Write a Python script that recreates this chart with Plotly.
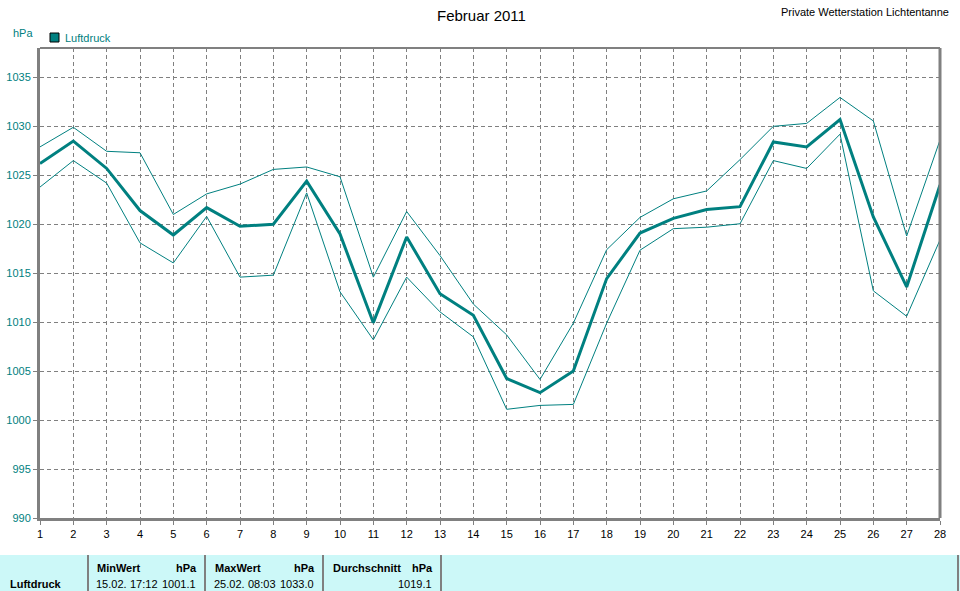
import plotly.graph_objects as go

days = list(range(1, 29))
p_max = [1027.9, 1029.9, 1027.45, 1027.3, 1021.0, 1023.1, 1024.1, 1025.6, 1025.85, 1024.85,
         1014.6, 1021.3, 1016.8, 1011.85, 1008.7, 1004.15, 1009.9, 1017.4, 1020.7, 1022.6,
         1023.4, 1026.6, 1030.0, 1030.3, 1032.95, 1030.55, 1018.8, 1028.6]
p_avg = [1026.2, 1028.5, 1025.7, 1021.4, 1018.9, 1021.7, 1019.8, 1020.0, 1024.4, 1019.0,
         1009.95, 1018.7, 1012.9, 1010.7, 1004.25, 1002.8, 1005.0, 1014.45, 1019.1, 1020.6,
         1021.5, 1021.8, 1028.4, 1027.9, 1030.7, 1020.75, 1013.6, 1024.0]
p_min = [1023.8, 1026.5, 1024.2, 1018.1, 1016.05, 1020.8, 1014.6, 1014.8, 1023.2, 1013.1,
         1008.2, 1014.6, 1011.05, 1008.5, 1001.1, 1001.5, 1001.6, 1009.9, 1017.35, 1019.55,
         1019.7, 1020.05, 1026.5, 1025.7, 1029.2, 1013.2, 1010.6, 1018.4]

y_ticks = [990, 995, 1000, 1005, 1010, 1015, 1020, 1025, 1030, 1035]

title_text = "Februar 2011"
station_text = "Private Wetterstation Lichtentanne"
series_name = "Luftdruck"
unit = "hPa"
table_headers = ["MinWert", "MaxWert", "Durchschnitt"]
table_dates = ["15.02.", "25.02.", ""]
table_times = ["17:12", "08:03", ""]
table_values = ["1001.1", "1033.0", "1019.1"]

TEAL = "#008080"
GRAY = "#808080"
FONT = "Liberation Sans"

W, H = 960, 591
L, R, T, B = 40, 940, 48, 518


def px(X):
    return (X - L) / (R - L)


def py(Y):
    return (B - Y) / (B - T)


fig = go.Figure()
fig.add_trace(go.Scatter(x=days, y=p_max, mode="lines", line=dict(color=TEAL, width=1), hoverinfo="skip"))
fig.add_trace(go.Scatter(x=days, y=p_min, mode="lines", line=dict(color=TEAL, width=1), hoverinfo="skip"))
fig.add_trace(go.Scatter(x=days, y=p_avg, mode="lines", line=dict(color=TEAL, width=3), name=series_name))

shapes = []
annotations = []

# frame
shapes.append(dict(type="line", xref="paper", yref="paper", x0=0, x1=1, y0=1, y1=1,
                   line=dict(color=GRAY, width=2)))
shapes.append(dict(type="line", xref="paper", yref="paper", x0=1, x1=1, y0=0, y1=1,
                   line=dict(color=GRAY, width=3)))

# legend
shapes.append(dict(type="rect", xref="paper", yref="paper", x0=px(50), x1=px(59), y0=py(42), y1=py(33),
                   fillcolor=TEAL, line=dict(color="black", width=1)))
annotations.append(dict(text=series_name, xref="paper", yref="paper", x=px(63), y=py(38),
                        xanchor="left", yanchor="middle", showarrow=False,
                        font=dict(family=FONT, size=11, color=TEAL)))
annotations.append(dict(text=unit, xref="paper", yref="paper", x=px(11), y=py(33),
                        xanchor="left", yanchor="middle", showarrow=False,
                        font=dict(family=FONT, size=11, color=TEAL)))
annotations.append(dict(text=title_text, xref="paper", yref="paper", x=px(481), y=py(15),
                        xanchor="center", yanchor="middle", showarrow=False,
                        font=dict(family=FONT, size=15, color="black")))
annotations.append(dict(text=station_text, xref="paper", yref="paper", x=px(951), y=py(12),
                        xanchor="right", yanchor="middle", showarrow=False,
                        font=dict(family=FONT, size=11, color="black")))

# table
shapes.append(dict(type="rect", xref="paper", yref="paper", x0=px(0), x1=px(960), y0=py(591), y1=py(555),
                   fillcolor="#ccf8f8", line=dict(width=0), layer="below"))
for X in [88, 205, 323, 441, 958]:
    shapes.append(dict(type="line", xref="paper", yref="paper", x0=px(X), x1=px(X), y0=py(591), y1=py(555),
                       line=dict(color=GRAY, width=2)))

bold = dict(family=FONT, size=11, color="black", weight="bold")
norm = dict(family=FONT, size=11, color="black")
annotations.append(dict(text="<b>" + series_name + "</b>", xref="paper", yref="paper", x=px(8), y=py(584),
                        xanchor="left", yanchor="middle", showarrow=False, font=bold))
col_left = [95, 213, 331]
col_right = [199, 317, 435]
for i in range(3):
    annotations.append(dict(text="<b>" + table_headers[i] + "</b>", xref="paper", yref="paper",
                            x=px(col_left[i]), y=py(568), xanchor="left", yanchor="middle",
                            showarrow=False, font=bold))
    annotations.append(dict(text="<b>" + unit + "</b>", xref="paper", yref="paper",
                            x=px(col_right[i]), y=py(568), xanchor="right", yanchor="middle",
                            showarrow=False, font=bold))
    if table_dates[i]:
        annotations.append(dict(text=table_dates[i], xref="paper", yref="paper",
                                x=px(col_left[i] - 1), y=py(584), xanchor="left", yanchor="middle",
                                showarrow=False, font=norm))
        annotations.append(dict(text=table_times[i], xref="paper", yref="paper",
                                x=px(col_left[i] + 33), y=py(584), xanchor="left", yanchor="middle",
                                showarrow=False, font=norm))
    annotations.append(dict(text=table_values[i], xref="paper", yref="paper",
                            x=px(col_right[i] - 1), y=py(584), xanchor="right", yanchor="middle",
                            showarrow=False, font=norm))

fig.update_layout(
    width=W, height=H,
    margin=dict(l=L, r=W - R, t=T, b=H - B, pad=0, autoexpand=False),
    paper_bgcolor="white", plot_bgcolor="white",
    showlegend=False,
    shapes=shapes, annotations=annotations,
    xaxis=dict(range=[1, 28], tickmode="array", tickvals=days, ticktext=[str(d) for d in days],
               showgrid=True, gridcolor=GRAY, griddash="4px,3px", gridwidth=1,
               showline=True, linecolor=GRAY, linewidth=3, automargin=False,
               ticks="outside", ticklen=4, tickcolor=GRAY,
               tickfont=dict(family=FONT, size=11, color="black"), zeroline=False, fixedrange=True),
    yaxis=dict(range=[990, 1038], tickmode="array", tickvals=y_ticks,
               showgrid=True, gridcolor=GRAY, griddash="4px,3px", gridwidth=1,
               showline=True, linecolor=GRAY, linewidth=3, automargin=False,
               ticks="outside", ticklen=4, tickcolor=GRAY,
               tickfont=dict(family=FONT, size=11, color=TEAL), zeroline=False, fixedrange=True),
)

fig.write_html("out.html", config={"displayModeBar": False},
               post_script="document.body.style.margin='0';document.body.style.padding='0';")
